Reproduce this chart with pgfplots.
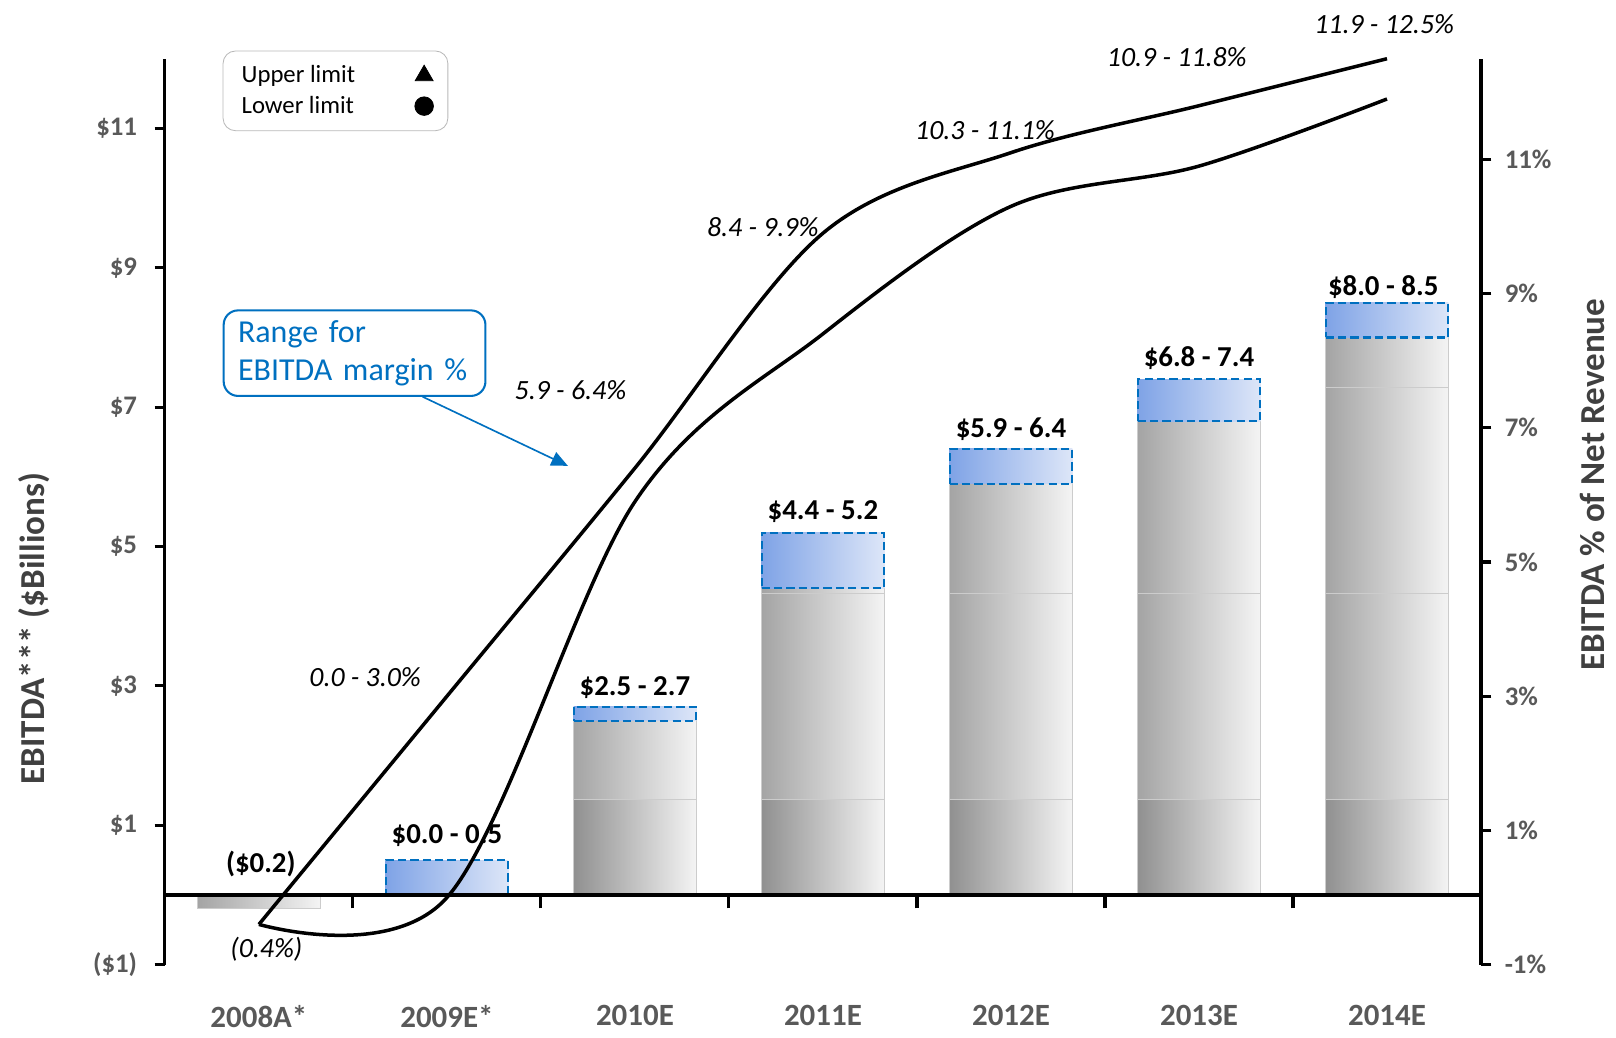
\documentclass[border=0pt]{standalone}
\usepackage{pgfplots}
\pgfplotsset{compat=1.18}
\usepackage{fontspec}
\setmainfont{Carlito}
\usetikzlibrary{arrows.meta}
\definecolor{tickgray}{HTML}{595959}
\definecolor{titlegray}{HTML}{404040}
\definecolor{calloutblue}{HTML}{0070C0}
\definecolor{bluedark}{HTML}{7FA3E6}
\definecolor{bluelight}{HTML}{DDE6F8}
\definecolor{bardark}{HTML}{A4A4A4}
\definecolor{barlight}{HTML}{F4F4F4}
\pgfplotsset{
  common/.style={
    at={(80pt,35.5pt)}, anchor=south west,
    scale only axis, width=638.5pt, height=439.5pt,
    xmin=-0.5, xmax=6.5, clip=false,
  },
  graybar/.style={forget plot, ybar, bar width=59.5pt, bar shift=0pt,
    draw=gray!40, line width=0.5pt, left color=bardark, right color=barlight},
  bluebox/.style={forget plot, draw=calloutblue, dash pattern=on 4pt off 2pt,
    line width=1pt, left color=bluedark, right color=bluelight},
}
\begin{document}
\begin{tikzpicture}
\path[use as bounding box] (0,0) rectangle (784pt,503.5pt);
% ---------- left axis ($ billions), bars ----------
\begin{axis}[common,
  ymin=-1, ymax=12,
  axis y line*=left,
  axis x line*=bottom,
  x axis line style={draw=none},
  y axis line style={line width=1.5pt,-},
  xtick={0,...,6},
  xticklabels={2008A*,2009E*,2010E,2011E,2012E,2013E,2014E},
  xtick style={draw=none},
  xticklabel style={font=\fontsize{15}{18}\selectfont\bfseries, text=tickgray, yshift=-11pt},
  ytick={-1,1,3,5,7,9,11},
  yticklabels={(\$1),\$1,\$3,\$5,\$7,\$9,\$11},
  yticklabel style={font=\fontsize{13}{16}\selectfont\bfseries, text=tickgray, xshift=-5pt},
  ytick style={line width=1.5pt, black},
  tick align=outside, major tick length=5pt,
  legend plot pos=right,
  legend cell align=left,
  legend style={at={(rel axis cs:0.0439,1.009)}, anchor=north west,
    draw=gray!55, rounded corners=6pt, font=\fontsize{12}{14.5}\selectfont,
    inner xsep=7pt, inner ysep=5pt, row sep=1pt,
    /tikz/every odd column/.append style={column sep=27pt}},
]
\addlegendimage{only marks, mark=triangle*, mark size=5pt, black}
\addlegendentry{Upper limit}
\addlegendimage{only marks, mark=*, mark size=4.5pt, black}
\addlegendentry{Lower limit}
% gray bars: lower value of each EBITDA range (one plot per bar so each has its own shading)
\addplot[graybar] coordinates {(0,-0.2)};
\addplot[graybar] coordinates {(2,2.5)};
\addplot[graybar] coordinates {(3,4.4)};
\addplot[graybar] coordinates {(4,5.9)};
\addplot[graybar] coordinates {(5,6.8)};
\addplot[graybar] coordinates {(6,8.0)};
% inner segments of the gray bars
\addplot[graybar] coordinates {(6,7.28)};
\addplot[graybar] coordinates {(3,4.32)};
\addplot[graybar] coordinates {(4,4.32)};
\addplot[graybar] coordinates {(5,4.32)};
\addplot[graybar] coordinates {(6,4.32)};
\addplot[graybar, left color=bardark!88!black] coordinates {(2,1.37)};
\addplot[graybar, left color=bardark!88!black] coordinates {(3,1.37)};
\addplot[graybar, left color=bardark!88!black] coordinates {(4,1.37)};
\addplot[graybar, left color=bardark!88!black] coordinates {(5,1.37)};
\addplot[graybar, left color=bardark!88!black] coordinates {(6,1.37)};
% blue range boxes (lower to upper value), bar half width 0.3264
\addplot[bluebox] coordinates {(0.6736,0.0) (1.3264,0.0) (1.3264,0.5) (0.6736,0.5)} -- cycle;
\addplot[bluebox] coordinates {(1.6736,2.5) (2.3264,2.5) (2.3264,2.7) (1.6736,2.7)} -- cycle;
\addplot[bluebox] coordinates {(2.6736,4.4) (3.3264,4.4) (3.3264,5.2) (2.6736,5.2)} -- cycle;
\addplot[bluebox] coordinates {(3.6736,5.9) (4.3264,5.9) (4.3264,6.4) (3.6736,6.4)} -- cycle;
\addplot[bluebox] coordinates {(4.6736,6.8) (5.3264,6.8) (5.3264,7.4) (4.6736,7.4)} -- cycle;
\addplot[bluebox] coordinates {(5.6736,8.0) (6.3264,8.0) (6.3264,8.5) (5.6736,8.5)} -- cycle;
% bar labels
\begin{scope}[every node/.style={font=\fontsize{14}{17}\selectfont\bfseries, text=black}]
\node at (axis cs:0.01,0.44) {(\$0.2)};
\node at (axis cs:1,0.857) {\$0.0 - 0.5};
\node at (axis cs:2,2.98) {\$2.5 - 2.7};
\node at (axis cs:3,5.50) {\$4.4 - 5.2};
\node at (axis cs:4,6.69) {\$5.9 - 6.4};
\node at (axis cs:5,7.70) {\$6.8 - 7.4};
\node at (axis cs:5.98,8.73) {\$8.0 - 8.5};
\end{scope}
% margin labels
\begin{scope}[every node/.style={font=\fontsize{13.5}{16}\selectfont\itshape, text=black}]
\node at (axis cs:0.04,-0.78) {(0.4\%)};
\node at (axis cs:0.565,3.12) {0.0 - 3.0\%};
\node at (axis cs:1.657,7.24) {5.9 - 6.4\%};
\node at (axis cs:2.68,9.59) {8.4 - 9.9\%};
\node at (axis cs:3.862,10.98) {10.3 - 11.1\%};
\node at (axis cs:4.882,12.03) {10.9 - 11.8\%};
\node at (axis cs:5.985,12.50) {11.9 - 12.5\%};
\end{scope}
% callout
\node[draw=calloutblue, line width=1pt, rounded corners=7pt, text=calloutblue, align=left,
  font=\fontsize{15.5}{18.5}\selectfont, minimum width=127pt, minimum height=41.5pt,
  text width=113pt, inner xsep=6.5pt] at (rel axis cs:0.1441,0.675) {Range for\\EBITDA margin \%};
\draw[calloutblue, line width=0.8pt, -{Triangle[length=8pt,width=7pt]}]
  (rel axis cs:0.1958,0.6269) -- (rel axis cs:0.3062,0.5506);
% axis titles
\node[rotate=90, font=\fontsize{17}{20}\selectfont\bfseries, text=titlegray]
  at (rel axis cs:-0.0995,0.371) {EBITDA*** (\$Billions)};
\node[rotate=90, font=\fontsize{17}{20}\selectfont\bfseries, text=titlegray]
  at (rel axis cs:1.0846,0.530) {EBITDA \% of Net Revenue};
\end{axis}
% ---------- baseline at $0 with ticks between categories ----------
\begin{axis}[common,
  ymin=-1, ymax=12,
  axis y line=none,
  axis x line=middle,
  x axis line style={line width=1.5pt,-},
  xtick={0.5,1.5,...,5.5},
  xticklabels={},
  xtick style={line width=1.5pt, black},
  tick align=outside, major tick length=6.5pt,
]
\addplot[draw=none] coordinates {(0,0) (6,0)};
\end{axis}
% ---------- right axis (% of net revenue), margin lines ----------
\begin{axis}[common,
  ymin=-1, ymax=12.5,
  axis y line*=right,
  axis x line=none,
  y axis line style={line width=1.5pt,-},
  ytick={-1,1,3,5,7,9,11},
  yticklabels={-1\%,1\%,3\%,5\%,7\%,9\%,11\%},
  yticklabel style={font=\fontsize{13}{16}\selectfont\bfseries, text=tickgray, xshift=3pt},
  ytick style={line width=1.5pt, black},
  tick align=outside, major tick length=5pt,
]
\addplot[black, line width=1.7pt, smooth, tension=0.55]
  coordinates {(0,-0.4) (1,3.0) (2,6.4) (3,9.9) (4,11.1) (5,11.8) (6,12.5)};
\addplot[black, line width=1.7pt, smooth, tension=0.55]
  coordinates {(0,-0.4) (1,0.0) (2,5.9) (3,8.4) (4,10.3) (5,10.9) (6,11.9)};
\end{axis}
\end{tikzpicture}
\end{document}
